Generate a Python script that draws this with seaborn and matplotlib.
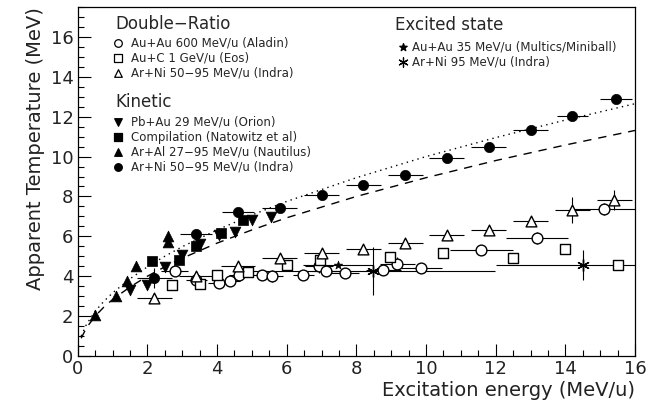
import numpy as np
import pandas as pd
import seaborn as sns
import matplotlib
matplotlib.use("Agg")
import matplotlib.pyplot as plt
from matplotlib.ticker import MultipleLocator

# ---------------- data ----------------
# Double ratio
aladin_x = [2.78, 3.40, 4.05, 4.37, 4.63, 5.28, 5.58, 6.48, 6.93, 7.14, 7.67, 8.77, 9.17, 9.87, 11.59, 13.19, 15.10]
aladin_y = [4.25, 3.80, 3.67, 3.77, 4.05, 4.05, 4.02, 4.05, 4.50, 4.25, 4.15, 4.30, 4.63, 4.42, 5.33, 5.92, 7.35]
aladin_xerr = [0.4, 0.3, 0.3, 0.3, 0.3, 0.3, 0.3, 0.3, 0.4, 0.4, 0.4, 0.5, 0.5, 0.6, 0.9, 0.9, 0.9]
aladin_yerr = [0.0, 0.0, 0.2, 0.0, 0.0, 0.0, 0.3, 0.0, 0.35, 0.0, 0.0, 0.0, 0.33, 0.0, 0.0, 0.3, 0.3]

eos_x = [2.71, 3.50, 4.00, 4.88, 6.00, 6.95, 8.98, 10.49, 12.50, 14.00, 15.51]
eos_y = [3.55, 3.60, 4.05, 4.20, 4.55, 4.80, 4.97, 5.17, 4.92, 5.38, 4.58]

indra_dr_x = [2.2, 3.4, 4.6, 5.8, 7.0, 8.2, 9.4, 10.6, 11.8, 13.0, 14.2, 15.4]
indra_dr_y = [2.93, 4.00, 4.50, 4.93, 5.15, 5.38, 5.67, 6.08, 6.32, 6.75, 7.33, 7.80]
indra_dr_xerr = [0.5] * 12
indra_dr_yerr = [0.1, 0.15, 0.15, 0.15, 0.15, 0.15, 0.2, 0.2, 0.2, 0.25, 0.65, 0.5]

# Kinetic
orion_x = [1.5, 2.0, 2.52, 3.0, 3.5, 4.05, 4.52, 5.0, 5.54]
orion_y = [3.30, 3.55, 4.45, 5.05, 5.60, 6.05, 6.20, 6.80, 6.97]

natowitz_x = [2.13, 2.90, 3.39, 4.12, 4.75]
natowitz_y = [4.77, 4.83, 5.50, 6.15, 6.80]

nautilus_x = [0.5, 1.09, 1.42, 1.66, 2.60, 2.60]
nautilus_y = [2.05, 3.00, 3.77, 4.50, 5.70, 6.02]

indra_kin_x = [2.2, 3.4, 4.6, 5.8, 7.0, 8.2, 9.4, 10.6, 11.8, 13.0, 14.2, 15.45]
indra_kin_y = [3.90, 6.10, 7.20, 7.40, 8.08, 8.58, 9.10, 9.95, 10.50, 11.35, 12.05, 12.90]
indra_kin_xerr = [0.5, 0.45, 0.45, 0.5, 0.5, 0.5, 0.5, 0.5, 0.5, 0.5, 0.45, 0.45]
indra_kin_yerr = [0.5, 0, 0, 0, 0, 0, 0, 0, 0, 0, 0, 0]

# Excited state
multics_x = [7.48]
multics_y = [4.55]
multics_xerr = [1.0]

arni95_x = [8.48, 14.51]
arni95_y = [4.27, 4.55]
arni95_xerr = [3.5, 2.5]
arni95_yerr = [1.2, 0.75]

# Fermi-gas reference curves
curve_x = [0.1, 0.25, 0.5, 0.75, 1.0, 1.5, 2.0, 2.5, 3.0, 4.0, 5.0, 6.0, 8.0, 10.0, 12.0, 14.0, 16.0]
dotted_y = [1.0, 1.58, 2.24, 2.74, 3.16, 3.87, 4.47, 5.0, 5.48, 6.32, 7.07, 7.75, 8.94, 10.0, 10.95, 11.83, 12.65]
dashed_y = [0.89, 1.41, 2.0, 2.45, 2.83, 3.46, 4.0, 4.47, 4.9, 5.66, 6.32, 6.93, 8.0, 8.94, 9.8, 10.58, 11.31]

x_ticks = [0, 2, 4, 6, 8, 10, 12, 14, 16]
y_ticks = [0, 2, 4, 6, 8, 10, 12, 14, 16]

# ---------------- figure ----------------
sns.set_theme(style="white")
plt.rcParams['font.family'] = ['DejaVu Sans']

fig = plt.figure(figsize=(6.48, 4.07), dpi=100)
ax = fig.add_axes([77.7 / 648, 1 - 356 / 407, (635 - 77.7) / 648, (356 - 7) / 407])

# curves
sns.lineplot(x=curve_x, y=dotted_y, ax=ax, color='black', lw=1.0, linestyle=(0, (1, 3)), zorder=1)
sns.lineplot(x=curve_x, y=dashed_y, ax=ax, color='black', lw=1.0, linestyle=(0, (6, 5)), zorder=1)

eb = dict(fmt='none', ecolor='black', elinewidth=0.8, capsize=0, zorder=2)
ax.errorbar(aladin_x, aladin_y, xerr=aladin_xerr, yerr=aladin_yerr, **eb)
ax.errorbar(indra_dr_x, indra_dr_y, xerr=indra_dr_xerr, yerr=indra_dr_yerr, **eb)
ax.errorbar(indra_kin_x, indra_kin_y, xerr=indra_kin_xerr, yerr=indra_kin_yerr, **eb)
ax.errorbar(multics_x, multics_y, xerr=multics_xerr, **eb)
ax.errorbar(arni95_x, arni95_y, xerr=arni95_xerr, yerr=arni95_yerr, **eb)

open_kw = dict(facecolor='white', edgecolor='black', linewidth=1.0, zorder=3, ax=ax)
fill_kw = dict(facecolor='black', edgecolor='black', linewidth=0.5, zorder=3, ax=ax)

sns.scatterplot(x=aladin_x, y=aladin_y, marker='o', s=60, **open_kw)
sns.scatterplot(x=eos_x, y=eos_y, marker='s', s=60, **open_kw)
sns.scatterplot(x=indra_dr_x, y=indra_dr_y, marker='^', s=60, **open_kw)
sns.scatterplot(x=orion_x, y=orion_y, marker='v', s=60, **fill_kw)
sns.scatterplot(x=natowitz_x, y=natowitz_y, marker='s', s=60, **fill_kw)
sns.scatterplot(x=nautilus_x, y=nautilus_y, marker='^', s=60, **fill_kw)
sns.scatterplot(x=indra_kin_x, y=indra_kin_y, marker='o', s=55, **fill_kw)
sns.scatterplot(x=multics_x, y=multics_y, marker='*', s=40, **fill_kw)
sns.scatterplot(x=arni95_x, y=arni95_y, marker=(6, 2, 0), s=70, color='black', linewidth=1.0, zorder=3, ax=ax)

ax.set_xlim(0, 16)
ax.set_ylim(0, 17.5)
ax.set_xticks(x_ticks)
ax.set_yticks(y_ticks)
ax.xaxis.set_minor_locator(MultipleLocator(0.5))
ax.yaxis.set_minor_locator(MultipleLocator(0.5))
ax.tick_params(which='major', direction='in', length=9, width=0.8, labelsize=13, color='black',
               top=False, right=False, bottom=True, left=True, labelcolor='#222222', pad=3)
ax.tick_params(which='minor', direction='in', length=4.5, width=0.8, color='black',
               top=False, right=False, bottom=True, left=True)
for sp in ax.spines.values():
    sp.set_color('black')
    sp.set_linewidth(0.9)

ax.set_xlabel('Excitation energy (MeV/u)', fontsize=14, loc='right', color='#222222', labelpad=2)
ax.set_ylabel('Apparent Temperature (MeV)', fontsize=14, loc='top', color='#222222', labelpad=4)

# legend as text blocks
def fx(px):
    return (px - 77.7) / 557.3

def fy(py):
    return (356 - py) / 349.0

T = ax.transAxes
hs = 12
es = 8.5
ax.text(fx(115), fy(24), 'Double\u2212Ratio', transform=T, fontsize=hs, va='center', ha='left')
ax.text(fx(115), fy(102), 'Kinetic', transform=T, fontsize=hs, va='center', ha='left')
ax.text(fx(395), fy(25), 'Excited state', transform=T, fontsize=hs, va='center', ha='left')

entries_dr = [('o', 'white', 'Au+Au 600 MeV/u (Aladin)', 43),
              ('s', 'white', 'Au+C 1 GeV/u (Eos)', 58),
              ('^', 'white', 'Ar+Ni 50\u221295 MeV/u (Indra)', 73)]
entries_k = [('v', 'black', 'Pb+Au 29 MeV/u (Orion)', 122),
             ('s', 'black', 'Compilation (Natowitz et al)', 137),
             ('^', 'black', 'Ar+Al 27\u221295 MeV/u (Nautilus)', 152),
             ('o', 'black', 'Ar+Ni 50\u221295 MeV/u (Indra)', 167)]
for m, fc, lab, py in entries_dr + entries_k:
    ax.scatter([fx(118)], [fy(py)], marker=m, s=30, facecolor=fc, edgecolor='black',
               linewidth=0.9, transform=T, clip_on=False, zorder=4)
    ax.text(fx(131), fy(py), lab, transform=T, fontsize=es, va='center', ha='left')

ax.scatter([fx(403)], [fy(47)], marker='*', s=30, color='black', transform=T, clip_on=False, zorder=4)
ax.text(fx(412), fy(47), 'Au+Au 35 MeV/u (Multics/Miniball)', transform=T, fontsize=es, va='center', ha='left')
ax.scatter([fx(403)], [fy(62)], marker=(6, 2, 0), s=45, color='black', linewidth=0.9,
           transform=T, clip_on=False, zorder=4)
ax.text(fx(412), fy(62), 'Ar+Ni 95 MeV/u (Indra)', transform=T, fontsize=es, va='center', ha='left')

fig.savefig('out.png', dpi=100, facecolor='white')
